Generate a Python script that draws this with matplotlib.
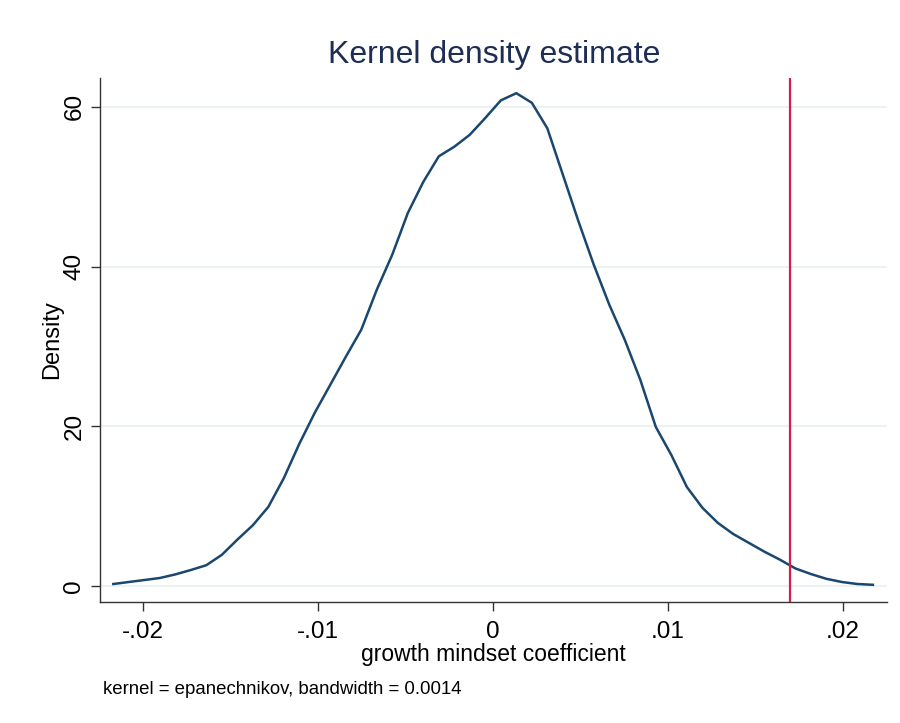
import numpy as np
import matplotlib
matplotlib.use("Agg")
import matplotlib.pyplot as plt

plt.rcParams['font.family'] = ['Liberation Sans', 'DejaVu Sans']

# Kernel density estimate: 50 evaluation points
x_start, x_end, n_points = -0.0217, 0.0217, 50
density = [0.25, 0.5, 0.75, 1.0, 1.45, 2.0, 2.6, 3.9, 5.8, 7.6,
           9.9, 13.5, 17.8, 21.7, 25.2, 28.7, 32.1, 37.1, 41.5, 46.7,
           50.6, 53.8, 55.0, 56.5, 58.6, 60.8, 61.7, 60.5, 57.3, 51.5,
           45.7, 40.2, 35.2, 30.8, 25.8, 19.9, 16.4, 12.4, 9.8, 7.9,
           6.5, 5.4, 4.3, 3.3, 2.2, 1.5, 0.9, 0.5, 0.25, 0.15]
ref_line = 0.01697

x_ticks = [-0.02, -0.01, 0.0, 0.01, 0.02]
x_tick_labels = ['-.02', '-.01', '0', '.01', '.02']
y_ticks = [0, 20, 40, 60]
y_tick_labels = ['0', '20', '40', '60']

title = 'Kernel density estimate'
xlabel = 'growth mindset coefficient'
ylabel = 'Density'
note = 'kernel = epanechnikov, bandwidth = 0.0014'

xs = np.linspace(x_start, x_end, n_points)

fig = plt.figure(figsize=(9, 7.23), dpi=100)
ax = fig.add_axes([0.1111, 0.1674, 0.8745, 0.7247])

for yt in y_ticks:
    ax.axhline(yt, color='#eaf2f3', lw=1.5, zorder=0)

ax.plot(xs, density, color='#1a476f', lw=1.8, zorder=2)
ax.axvline(ref_line, color='#d41e4e', lw=1.6, zorder=3)

ax.set_xlim(-0.02246, 0.02251)
ax.set_ylim(-2.0, 63.6)

ax.set_xticks(x_ticks)
ax.set_xticklabels(x_tick_labels, fontsize=17.5)
ax.set_yticks(y_ticks)
ax.set_yticklabels(y_tick_labels, fontsize=17.5, rotation=90, va='center')

ax.tick_params(axis='both', direction='out', length=6.5, width=1, color='#333333')
ax.tick_params(axis='x', pad=7)
ax.tick_params(axis='y', pad=4)

for s in ['top', 'right']:
    ax.spines[s].set_visible(False)
for s in ['left', 'bottom']:
    ax.spines[s].set_color('#333333')
    ax.spines[s].set_linewidth(1)

ax.set_xlabel(xlabel, fontsize=16.5, labelpad=0)
ax.set_ylabel(ylabel, fontsize=17, labelpad=0)
fig.text(0.549, 0.924, title, fontsize=23, color='#1e2d53', ha='center', va='center')
fig.text(0.1144, 0.046, note, fontsize=13.4, ha='left', va='center')

fig.savefig('out.png', dpi=100, facecolor='white')
